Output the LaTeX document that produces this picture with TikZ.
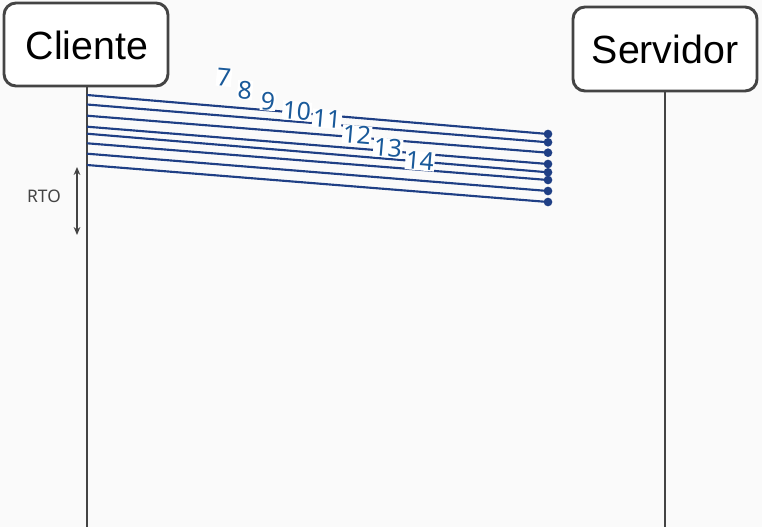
\documentclass[tikz,border=0pt]{standalone}
\usepackage{fontspec}
\setmainfont{Liberation Sans}
\newfontfamily\labelfont{Noto Sans}
\usetikzlibrary{arrows.meta}
\definecolor{bgc}{HTML}{FAFAFA}
\definecolor{edgec}{HTML}{444444}
\definecolor{msgc}{HTML}{1F3F85}
\definecolor{numc}{HTML}{1A5A9A}
\begin{document}
\begin{tikzpicture}[x=0.75pt,y=-0.75pt,
  actor/.style={draw=edgec,line width=2.2pt,fill=white,rounded corners=9pt},
  actortext/.style={font=\fontsize{29.5}{32}\selectfont},
  lifeline/.style={draw=edgec,line width=2.2pt},
  msg/.style={draw=msgc,line width=1.6pt},
  numlbl/.style={fill=white,text=numc,inner sep=0.4pt,rotate=-5,font=\labelfont\fontsize{18.5}{20}\selectfont},
  dotend/.style={circle,fill=msgc,inner sep=0pt,minimum size=6.5pt}]
\fill[bgc] (0,0) rectangle (762,527);
\useasboundingbox (0,0) rectangle (762,527);
% actors
\draw[actor] (4,3) rectangle (168,86);
\node[actortext] (cli) at (87,45) {Cliente};
\draw[actor] (573,7) rectangle (757,91);
\node[actortext] (srv) at (665,49) {Servidor};
\coordinate (clitop) at (87,86);
\coordinate (clibot) at (87,527);
\coordinate (srvtop) at (665,91);
\coordinate (srvbot) at (665,527);
\draw[lifeline] (clitop) -- (clibot);
\draw[lifeline] (srvtop) -- (srvbot);
% messages
\foreach \i/\ya/\yb in {1/95/134,2/104.5/142.3,3/115.7/152.7,4/126.7/164,5/133.7/172.3,6/143.3/180,7/153.7/191,8/165/202}{
  \coordinate (s\i) at (87,\ya);
  \node[dotend] (e\i) at (548,\yb) {};
  \draw[msg] (s\i) -- (e\i.center);
}
% labels
\node[numlbl] (n7) at (224,77) {7};
\node[numlbl] (n8) at (245,90) {8};
\node[numlbl] (n9) at (268,101) {9};
\node[numlbl] (n10) at (297,111) {10};
\node[numlbl] (n11) at (327,119) {11};
\node[numlbl] (n12) at (357,135) {12};
\node[numlbl] (n13) at (388,148) {13};
\node[numlbl] (n14) at (420,161) {14};
% RTO
\coordinate (rtoa) at (77,167);
\coordinate (rtob) at (77,235);
\draw[draw=edgec,line width=1.3pt,{Stealth[length=6pt,width=5pt]}-{Stealth[length=6pt,width=5pt]}] (rtoa) -- (rtob);
\node[text=edgec,font=\labelfont\fontsize{13}{14}\selectfont] (rto) at (44,196) {RTO};
\end{tikzpicture}
\end{document}
